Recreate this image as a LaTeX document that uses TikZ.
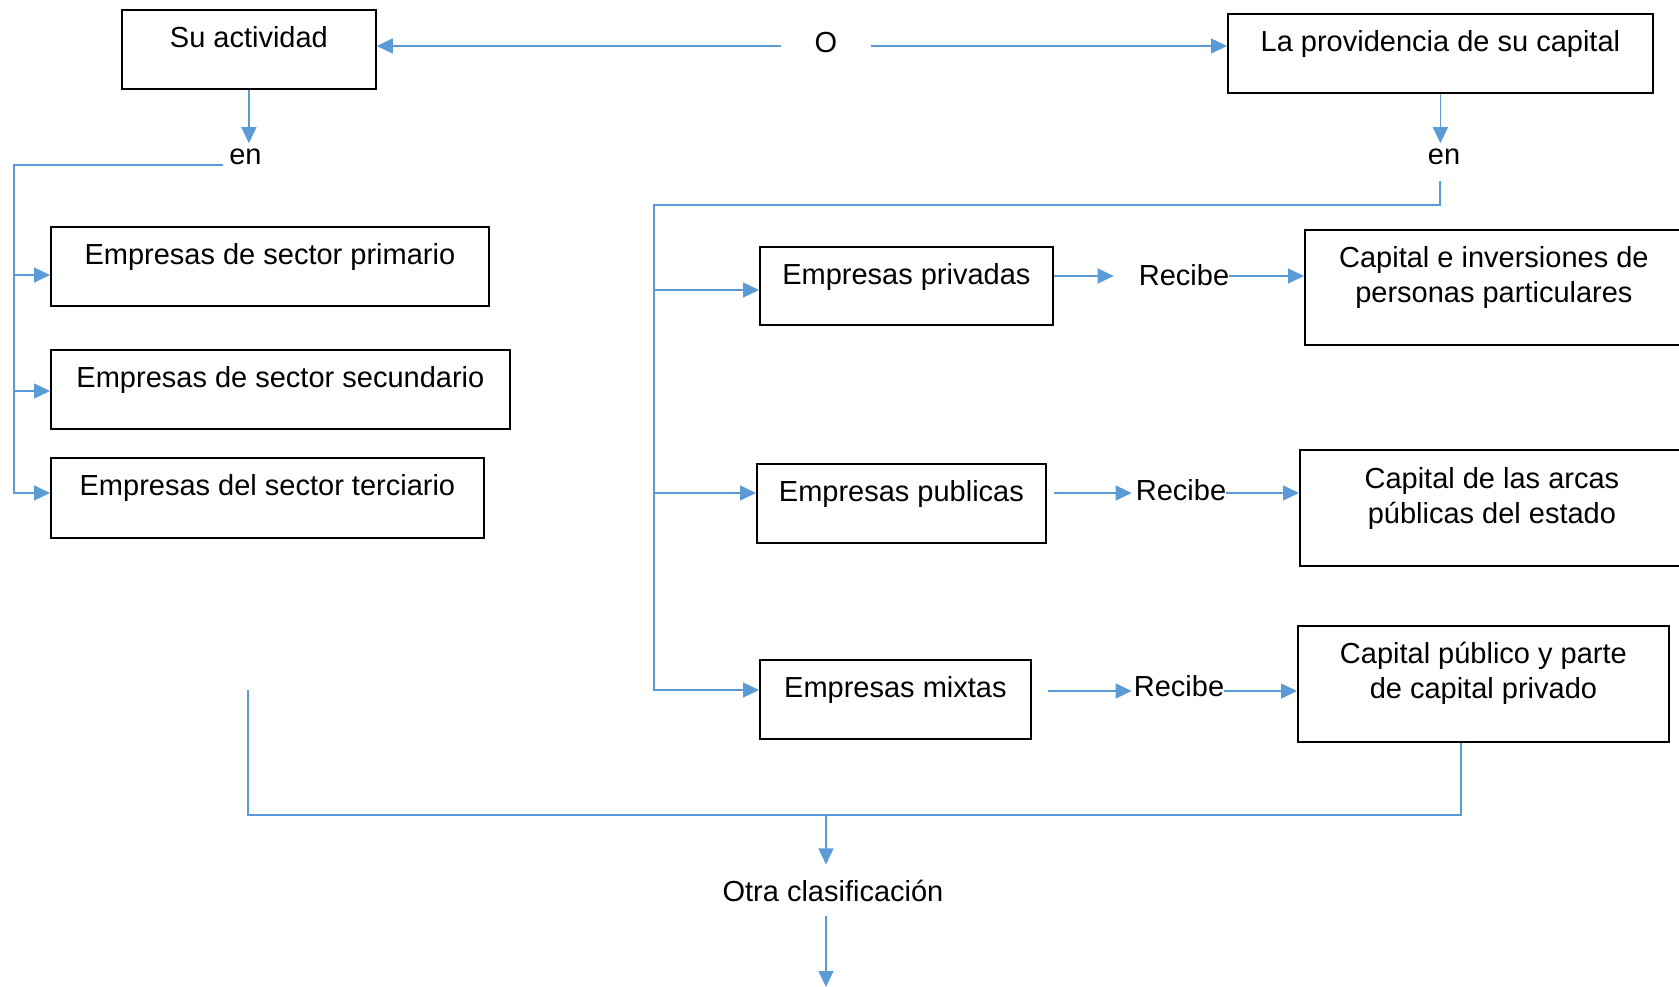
\documentclass[tikz,border=0pt]{standalone}
\usepackage{fontspec}
\setmainfont{Liberation Sans}
\usetikzlibrary{arrows.meta}
\definecolor{connblue}{HTML}{5B9BD5}
\begin{document}
\begin{tikzpicture}[x=1pt,y=-1pt,
  every node/.style={font=\fontsize{29pt}{35pt}\selectfont},
  box/.style={draw=black, line width=1.8pt, anchor=north west, inner xsep=0pt, inner ysep=0pt, text height=38pt},
  lbl/.style={inner xsep=0pt, inner ysep=6pt, anchor=base},
  conn/.style={draw=connblue, line width=1.4pt},
  arr/.style={conn, -{Triangle[length=16pt,width=15pt]}}]
\useasboundingbox (0,0) rectangle (1679,987);
\clip (0,0) rectangle (1679,987);

% boxes
\node[box, minimum width=254pt, minimum height=79pt, text depth=41pt] (su) at (121,9) {Su actividad};
\node[box, minimum width=425pt, minimum height=79pt, text depth=41pt] (prov) at (1227,13) {La providencia de su capital};
\node[box, minimum width=438pt, minimum height=79pt, text depth=41pt] (prim) at (50,226) {Empresas de sector primario};
\node[box, minimum width=459pt, minimum height=79pt, text depth=41pt] (sec) at (50,349) {Empresas de sector secundario};
\node[box, minimum width=433pt, minimum height=80pt, text depth=42pt] (ter) at (50,457) {Empresas del sector terciario};
\node[box, minimum width=293pt, minimum height=78pt, text depth=40pt] (priv) at (759,246) {Empresas privadas};
\node[box, minimum width=289pt, minimum height=79pt, text depth=41pt] (pub) at (756,463) {Empresas publicas};
\node[box, minimum width=271pt, minimum height=79pt, text depth=41pt] (mix) at (759,659) {Empresas mixtas};
\node[box, minimum width=378pt, minimum height=115pt, text depth=77pt] (cap1) at (1304,229)
  {\begin{tabular}[t]{@{}c@{}}Capital e inversiones de\\personas particulares\end{tabular}};
\node[box, minimum width=384pt, minimum height=115pt, text depth=77pt, text height=39pt] (cap2) at (1299,449)
  {\begin{tabular}[t]{@{}c@{}}Capital de las arcas\\públicas del estado\end{tabular}};
\node[box, minimum width=371pt, minimum height=116pt, text depth=78pt] (cap3) at (1297,625)
  {\begin{tabular}[t]{@{}c@{}}Capital público y parte\\de capital privado\end{tabular}};

% free labels
\node[lbl, inner xsep=34pt] (O) at (826,53) {O};
\node[lbl, inner xsep=6pt] (en1) at (245.5,165) {en};
\node[lbl] (en2) at (1444,165) {en};
\node[lbl] (rec1) at (1184,285) {Recibe};
\node[lbl] (rec2) at (1181,500) {Recibe};
\node[lbl] (rec3) at (1179,696) {Recibe};
\node[lbl, inner ysep=15pt] (otra) at (833,901) {Otra clasificación};

% top arrows
\coordinate (yO) at (0,46);
\draw[arr] (O.west |- yO) -- (su.east |- yO);
\draw[arr] (O.east |- yO) -- (prov.west |- yO);
\draw[arr] (su.south) -- (su.south |- en1.north);
\draw[arr] (prov.south) -- (prov.south |- en2.north);

% left bracket
\coordinate (L0) at (14,165);
\coordinate (L1) at (14,275);
\coordinate (L2) at (14,391);
\coordinate (L3) at (14,493);
\draw[arr] (en1.base west) -- (L0) -- (L3) -- (L3 -| ter.west);
\draw[arr] (L1) -- (L1 -| prim.west);
\draw[arr] (L2) -- (L2 -| sec.west);

% right bracket
\coordinate (R0) at (1440,181);
\coordinate (R1) at (654,205);
\coordinate (R2) at (654,290);
\coordinate (R3) at (654,493);
\coordinate (R4) at (654,690);
\draw[arr] (R0) |- (R1) -- (R4) -- (R4 -| mix.west);
\draw[arr] (R2) -- (R2 -| priv.west);
\draw[arr] (R3) -- (R3 -| pub.west);

% Recibe rows
\coordinate (y1) at (0,276);
\coordinate (y2) at (0,493);
\coordinate (y3) at (0,691);
\draw[arr, shorten >=25pt] (priv.east |- y1) -- (rec1.west |- y1);
\draw[arr] (rec1.east |- y1) -- (cap1.west |- y1);
\draw[arr, shorten <=7pt, shorten >=4pt] (pub.east |- y2) -- (rec2.west |- y2);
\draw[arr] (rec2.east |- y2) -- (cap2.west |- y2);
\draw[arr, shorten <=16pt, shorten >=2pt] (mix.east |- y3) -- (rec3.west |- y3);
\draw[arr] (rec3.east |- y3) -- (cap3.west |- y3);

% bottom
\coordinate (B0) at (248,690);
\coordinate (B1) at (248,815);
\coordinate (B2) at (1461,815);
\coordinate (J) at (826,815);
\coordinate (E) at (826,987);
\draw[conn] (B0) -- (B1) -- (B2) -- (B2 |- cap3.south);
\draw[arr] (J) -- (J |- otra.north);
\draw[arr] (J |- otra.south) -- (E);
\end{tikzpicture}
\end{document}
